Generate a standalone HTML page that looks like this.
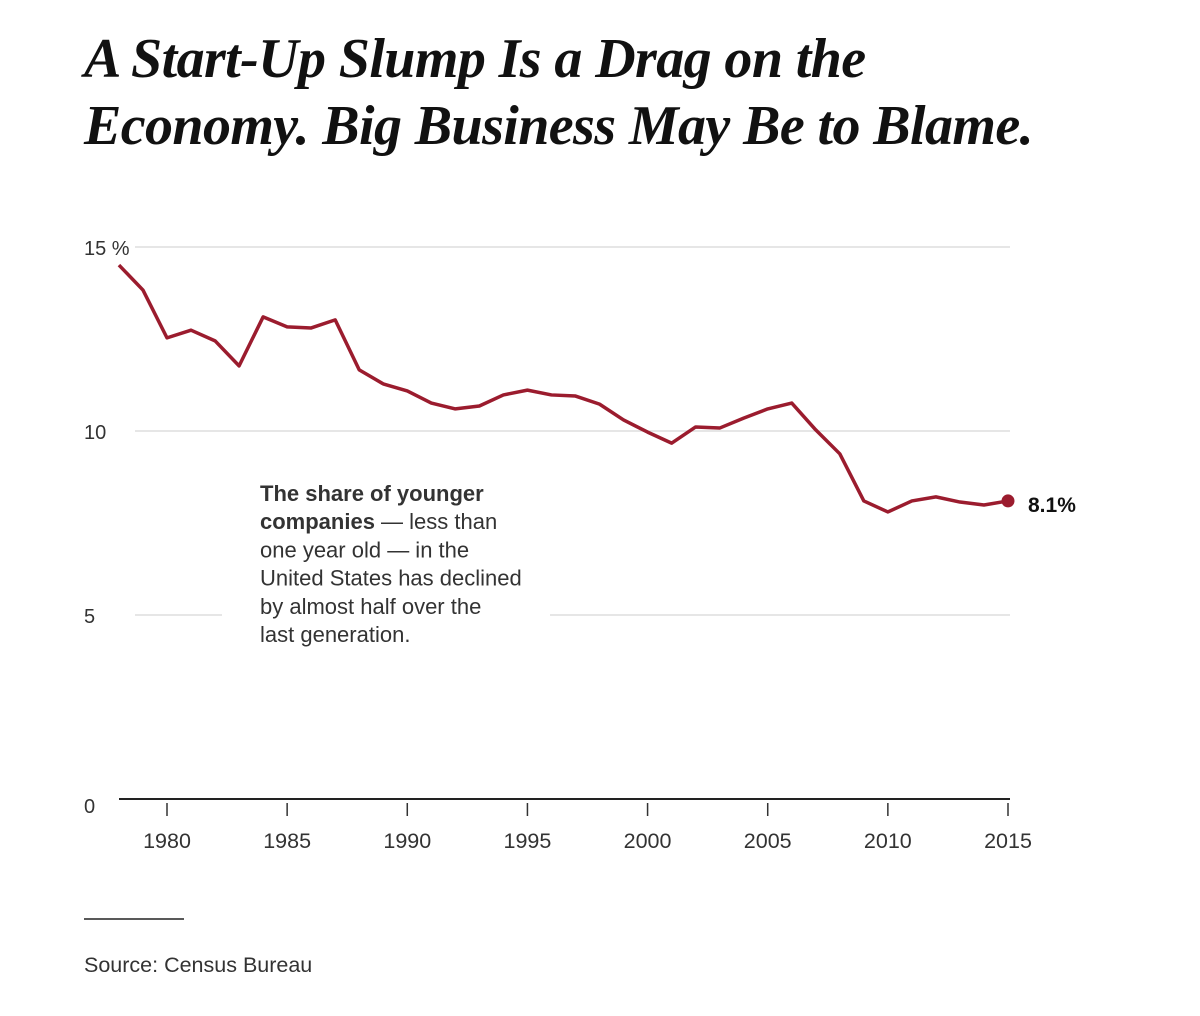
<!DOCTYPE html>
<html><head><meta charset="utf-8"><style>
body{margin:0;background:#fff;width:1200px;height:1016px;overflow:hidden;font-family:"Liberation Sans",sans-serif}
h1{position:absolute;left:84px;top:26px;margin:0;font-family:"Liberation Serif",serif;font-weight:bold;font-style:italic;font-size:56px;line-height:67px;color:#111;letter-spacing:-0.6px;white-space:nowrap}
</style></head><body>
<h1>A Start-Up Slump Is a Drag on the<br>Economy. Big Business May Be to Blame.</h1>
<svg id="c" width="1200" height="1016" style="position:absolute;left:0;top:0"></svg>
<script>
const years=[1978,1979,1980,1981,1982,1983,1984,1985,1986,1987,1988,1989,1990,1991,1992,1993,1994,1995,1996,1997,1998,1999,2000,2001,2002,2003,2004,2005,2006,2007,2008,2009,2010,2011,2012,2013,2014,2015];
const share=[14.51,13.83,12.53,12.74,12.45,11.77,13.10,12.83,12.80,13.02,11.66,11.28,11.09,10.76,10.60,10.68,10.98,11.11,10.98,10.95,10.73,10.30,9.97,9.67,10.11,10.08,10.35,10.60,10.76,10.03,9.38,8.10,7.80,8.10,8.21,8.07,7.99,8.1];
const yTicks=[0,5,10,15];
const yTickLabels=["0","5","10","15 %"];
const xTicks=[1980,1985,1990,1995,2000,2005,2010,2015];
const endLabel="8.1%";
const NS="http://www.w3.org/2000/svg";
const svg=document.getElementById('c');
const x=v=>167+(v-1980)*(1008-167)/35;
const y=v=>799-v*(799-247)/15;
function mk(t,a,txt){const e=document.createElementNS(NS,t);for(const k in a)e.setAttribute(k,a[k]);if(txt!=null)e.textContent=txt;svg.appendChild(e);return e;}
yTicks.forEach((t,i)=>{
  if(t>0){
    if(t===5){
      const g1=mk('line',{x1:135,x2:222,y1:y(t),y2:y(t),stroke:'#ddd','stroke-width':1.5});
      
      const g2=mk('line',{x1:550,x2:1010,y1:y(t),y2:y(t),stroke:'#ddd','stroke-width':1.5});
      
    } else {
      const g=mk('line',{x1:135,x2:1010,y1:y(t),y2:y(t),stroke:'#ddd','stroke-width':1.5});
      
    }
  }
  const l=mk('text',{x:84,y:y(t)+(t===0?14:8),'font-size':20,fill:'#333'},yTickLabels[i]);
  
});
const base=mk('line',{x1:119,x2:1010,y1:799,y2:799,stroke:'#222','stroke-width':2});

xTicks.forEach(t=>{
  const tk=mk('line',{x1:x(t),x2:x(t),y1:803,y2:816,stroke:'#333','stroke-width':1.5});
  
  const l=mk('text',{x:x(t),y:848,'font-size':21.5,fill:'#333','text-anchor':'middle'},String(t));
  
});
const p=mk('polyline',{points:years.map((yr,i)=>x(yr)+','+y(share[i])).join(' '),fill:'none',stroke:'#9b1c2e','stroke-width':3.5,'stroke-linejoin':'round'});

const n=years.length-1;
const d=mk('circle',{cx:x(years[n]),cy:y(share[n]),r:6.5,fill:'#9b1c2e'});

const el=mk('text',{x:x(years[n])+20,y:y(share[n])+11,'font-size':21,'font-weight':'bold',fill:'#111'},endLabel);

const ann=["<tspan font-weight='bold'>The share of younger</tspan>","<tspan font-weight='bold'>companies</tspan> — less than","one year old — in the","United States has declined","by almost half over the","last generation."];
ann.forEach((s,i)=>{const t=mk('text',{x:260,y:501+i*28.2,'font-size':22,fill:'#333'});t.innerHTML=s;
});
const sr=mk('line',{x1:84,x2:184,y1:919,y2:919,stroke:'#222','stroke-width':1.5});

const src=mk('text',{x:84,y:972,'font-size':21.5,fill:'#333'},'Source: Census Bureau');

</script>
</body></html>
